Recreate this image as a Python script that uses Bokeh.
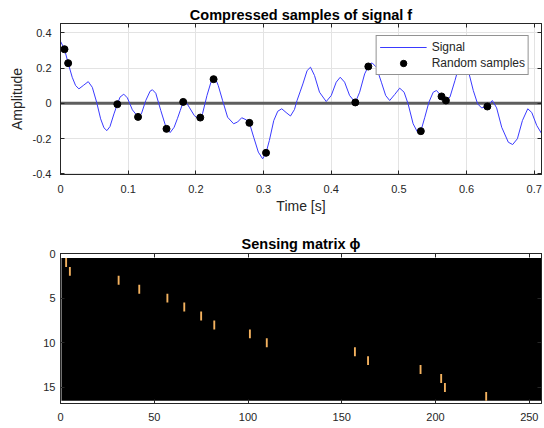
from bokeh.plotting import figure
from bokeh.layouts import column
from bokeh.models import (Range1d, LinearAxis, Span, Legend, LegendItem,
                          FixedTicker, NumeralTickFormatter)
from bokeh.embed import file_html
from bokeh.resources import INLINE

# ---------------- data ----------------
signal_t = [0.000, 0.0059, 0.0113, 0.0173, 0.0223, 0.0272, 0.0336, 0.0410, 0.0470, 0.0534,
            0.0593, 0.0642, 0.0685, 0.0731, 0.0790, 0.0840, 0.0879, 0.0935, 0.0988, 0.1062,
            0.1146, 0.1195, 0.1260, 0.1324, 0.1358, 0.1408, 0.1482, 0.1566, 0.1620, 0.1679,
            0.1729, 0.1770, 0.1813, 0.1840, 0.1902, 0.1976, 0.2040, 0.2065, 0.2099, 0.2164,
            0.2223, 0.2262, 0.2300, 0.2331, 0.2395, 0.2469, 0.2558, 0.2617, 0.2677, 0.2741,
            0.2791, 0.2854, 0.2923, 0.2987, 0.3037, 0.3086, 0.3151, 0.3210, 0.3269, 0.3333,
            0.3398, 0.3457, 0.3495, 0.3540, 0.3581, 0.3644, 0.3694, 0.3753, 0.3827, 0.3926,
            0.4000, 0.4074, 0.4133, 0.4198, 0.4272, 0.4356, 0.4420, 0.4494, 0.4548, 0.4603,
            0.4667, 0.4741, 0.4805, 0.4864, 0.4938, 0.5012, 0.5077, 0.5136, 0.5210, 0.5270,
            0.5300, 0.5324, 0.5383, 0.5443, 0.5507, 0.5556, 0.5630, 0.5695, 0.5754, 0.5828,
            0.5877, 0.5910, 0.5950, 0.5990, 0.6025, 0.6099, 0.6163, 0.6222, 0.6307, 0.6381,
            0.6444, 0.6519, 0.6617, 0.6681, 0.6751, 0.6825, 0.6904, 0.6963, 0.7037, 0.7111]
signal_v = [0.352, 0.307, 0.228, 0.148, 0.101, 0.082, 0.101, 0.123, 0.091, 0.006,
            -0.088, -0.139, -0.155, -0.132, -0.060, -0.005, 0.035, 0.052, 0.031, -0.037,
            -0.077, -0.060, 0.016, 0.069, 0.077, 0.057, -0.041, -0.145, -0.166, -0.136,
            -0.085, -0.040, 0.008, 0.016, -0.022, -0.069, -0.089, -0.081, -0.058, 0.044,
            0.120, 0.137, 0.130, 0.101, 0.016, -0.079, -0.116, -0.106, -0.082, -0.093,
            -0.111, -0.192, -0.277, -0.315, -0.281, -0.211, -0.098, -0.045, -0.031, -0.052,
            -0.072, -0.035, 0.016, 0.065, 0.110, 0.186, 0.205, 0.158, 0.063, 0.010,
            0.044, 0.120, 0.148, 0.120, 0.044, 0.005, 0.063, 0.167, 0.209, 0.230,
            0.205, 0.120, 0.044, 0.016, 0.050, 0.086, 0.063, -0.003, -0.116, -0.160,
            -0.168, -0.158, -0.079, 0.006, 0.063, 0.073, 0.039, 0.016, 0.035, 0.129,
            0.196, 0.235, 0.250, 0.235, 0.186, 0.073, -0.003, -0.026, -0.018, 0.016,
            -0.026, -0.136, -0.221, -0.234, -0.201, -0.098, -0.031, -0.052, -0.126, -0.173]

sample_t = [0.0059, 0.0113, 0.0840, 0.1146, 0.1566, 0.1813, 0.2065, 0.2262,
            0.2791, 0.3037, 0.4356, 0.4548, 0.5324, 0.5630, 0.5695, 0.6307]
sample_v = [0.307, 0.228, -0.005, -0.077, -0.145, 0.008, -0.081, 0.137,
            -0.111, -0.281, 0.005, 0.209, -0.158, 0.039, 0.016, -0.018]

# sensing matrix: one non-zero entry per row
n_rows = 16
n_cols = 256
phi_rows = [1, 2, 3, 4, 5, 6, 7, 8, 9, 10, 11, 12, 13, 14, 15, 16]
phi_cols = [3, 5, 31, 42, 57, 66, 75, 82, 101, 110, 157, 164, 192, 203, 205, 227]

top_xticks = [0, 0.1, 0.2, 0.3, 0.4, 0.5, 0.6, 0.7]
top_yticks = [-0.4, -0.2, 0, 0.2, 0.4]
bot_xticks = [0, 50, 100, 150, 200, 250]
bot_yticks = [0, 5, 10, 15]

# ---------------- styling ----------------
FONT = "Liberation Sans"
AX = "#262626"
GRID = "#e3e3e3"


def style_axis(ax, ticks, size="11px", standoff=8, show_labels=True):
    ax.ticker = FixedTicker(ticks=ticks)
    ax.major_tick_in = 4
    ax.major_tick_out = 0
    ax.minor_tick_line_color = None
    ax.axis_line_color = AX
    ax.major_tick_line_color = AX
    ax.major_label_text_font = FONT
    ax.axis_label_text_font = FONT
    ax.axis_label_text_font_style = "normal"
    ax.axis_label_text_color = AX
    ax.axis_label_text_font_size = "14px"
    if show_labels:
        ax.major_label_text_color = AX
        ax.major_label_text_font_size = size
        ax.major_label_standoff = standoff
        ax.formatter = NumeralTickFormatter(format="0.[0]")
    else:
        ax.major_label_text_color = None
        ax.major_label_text_font_size = "1px"
        ax.major_label_standoff = 0


def style_title(p, standoff):
    p.title.align = "center"
    p.title.text_font = FONT
    p.title.text_font_size = "14.5px"
    p.title.text_font_style = "bold"
    p.title.text_color = "#000000"
    p.title.standoff = standoff


# ---------------- top panel ----------------
p1 = figure(frame_width=481, frame_height=151, min_border_left=60, min_border_right=3,
            min_border_top=23, min_border_bottom=40,
            x_range=Range1d(0, 0.7107), y_range=Range1d(-0.404, 0.453),
            output_backend="svg", toolbar_location=None,
            title="Compressed samples of signal f")
style_title(p1, 2)
p1.outline_line_color = AX
p1.background_fill_color = "white"

style_axis(p1.xaxis[0], top_xticks, standoff=10)
style_axis(p1.yaxis[0], top_yticks, standoff=9)
p1.xaxis[0].axis_label = "Time [s]"
p1.xaxis[0].axis_label_standoff = 2
p1.yaxis[0].axis_label = "Amplitude"
p1.yaxis[0].axis_label_standoff = 5
ax_top = LinearAxis()
style_axis(ax_top, top_xticks, show_labels=False)
p1.add_layout(ax_top, "above")
ax_right = LinearAxis()
style_axis(ax_right, top_yticks, show_labels=False)
p1.add_layout(ax_right, "right")

p1.xgrid.ticker = FixedTicker(ticks=top_xticks)
p1.ygrid.ticker = FixedTicker(ticks=top_yticks)
p1.xgrid.grid_line_color = GRID
p1.ygrid.grid_line_color = GRID

p1.add_layout(Span(location=0, dimension="width", line_color="#5e5e5e",
                   line_width=3, level="underlay"))

r_sig = p1.line(signal_t, signal_v, line_color="#3a3aff", line_width=1)
r_smp = p1.scatter(sample_t, sample_v, size=7, fill_color="black", line_color="black")

legend = Legend(items=[LegendItem(label="Signal", renderers=[r_sig]),
                       LegendItem(label="Random samples", renderers=[r_smp])],
                location="top_right")
legend.margin = 12
legend.padding = 3
legend.spacing = 0
legend.glyph_width = 47
legend.glyph_height = 16
legend.label_height = 16
legend.label_standoff = 5
legend.label_text_font = FONT
legend.label_text_font_size = "12px"
legend.label_text_color = AX
legend.border_line_color = AX
legend.border_line_width = 1
legend.background_fill_alpha = 1
p1.add_layout(legend)

# ---------------- bottom panel ----------------
p2 = figure(frame_width=481, frame_height=150, min_border_left=60, min_border_right=3,
            min_border_top=37, min_border_bottom=22,
            x_range=Range1d(0, n_cols + 0.5), y_range=Range1d(n_rows + 0.8, 0),
            output_backend="svg", toolbar_location=None,
            title="Sensing matrix \u03d5")
style_title(p2, 3)
p2.outline_line_color = AX
p2.xgrid.grid_line_color = None
p2.ygrid.grid_line_color = None

style_axis(p2.xaxis[0], bot_xticks, standoff=9)
style_axis(p2.yaxis[0], bot_yticks, standoff=5)
ax_top2 = LinearAxis()
style_axis(ax_top2, bot_xticks, show_labels=False)
p2.add_layout(ax_top2, "above")
ax_right2 = LinearAxis()
style_axis(ax_right2, bot_yticks, show_labels=False)
p2.add_layout(ax_right2, "right")

p2.quad(left=[0.5], right=[n_cols + 0.5], top=[0.5], bottom=[n_rows + 0.5],
        fill_color="black", line_color=None)
p2.rect(x=phi_cols, y=phi_rows, width=1, height=1, fill_color="#f4b25f", line_color=None)

layout = column(p1, p2, spacing=0)
open("out.html", "w").write(file_html(layout, INLINE))
